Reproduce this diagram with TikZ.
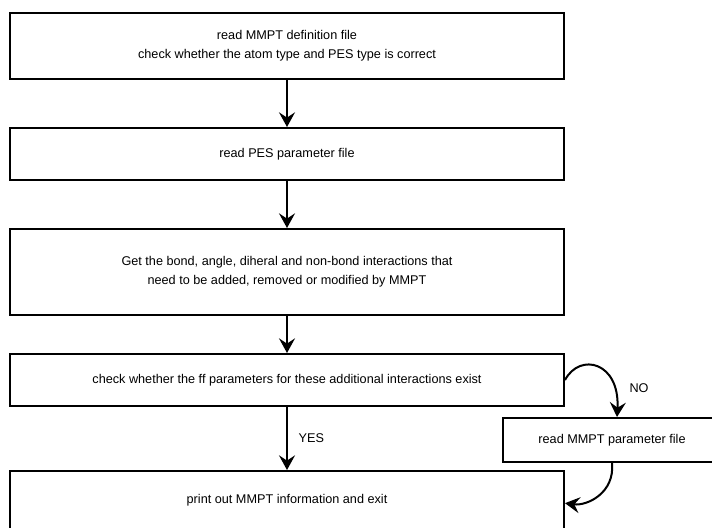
\documentclass[tikz,border=0pt]{standalone}
\usepackage{fontspec}
\setmainfont{Liberation Sans}
\usetikzlibrary{arrows.meta,positioning}

\begin{document}
\begin{tikzpicture}[
    x=0.75pt, y=-0.75pt,
    node distance=35.25pt,
    box/.style={rectangle, draw, line width=1.5pt, minimum width=415.5pt, inner sep=0pt, align=center, font=\fontsize{9.5}{14}\selectfont},
    lbl/.style={inner sep=0pt, font=\fontsize{9.5}{14}\selectfont},
    arrow/.style={-{Stealth[length=11pt, width=12pt, inset=4pt]}, line width=1.5pt}
]
    \useasboundingbox (0,0) rectangle (712,527);

    \node[box, minimum height=49.5pt] (mmpt) at (287,46) {read MMPT definition file\\check whether the atom type and PES type is correct};
    \node[box, minimum height=39pt, below=of mmpt] (pes) {read PES parameter file};
    \node[box, minimum height=64.5pt, below=of pes] (inter) {Get the bond, angle, diheral and non-bond interactions that\\need to be added, removed or modified by MMPT};
    \node[box, minimum height=39pt, below=27.75pt of inter] (check) {check whether the ff parameters for these additional interactions exist};
    \node[box, minimum height=44.25pt, below=47.25pt of check] (out) {print out MMPT information and exit};
    \node[box, minimum width=163.5pt, minimum height=33pt] (param) at (612,440) {read MMPT parameter file};

    \draw[arrow] (mmpt) -- (pes);
    \draw[arrow] (pes) -- (inter);
    \draw[arrow] (inter) -- (check);
    \draw[arrow] (check) -- node[lbl, right=8pt] (yes) {YES} (out);

    % NO branch
    \draw[arrow] (check.east) .. controls +(15,-28) and +(3,-55) .. ([xshift=3.75pt]param.north);
    \node[lbl] (no) at (639,388) {NO};
    \draw[arrow] (param.south) .. controls +(3,30) and +(22,3) .. ([yshift=-2pt]out.east);
\end{tikzpicture}
\end{document}
